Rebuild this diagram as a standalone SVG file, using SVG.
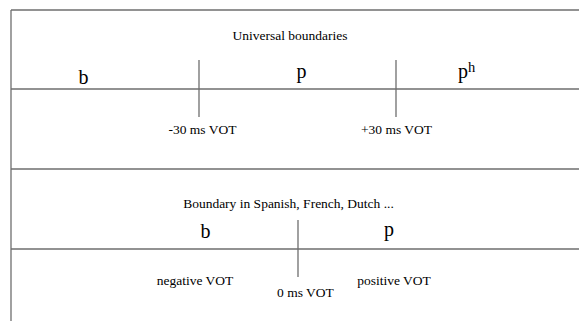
<svg xmlns="http://www.w3.org/2000/svg" width="579" height="321" viewBox="0 0 579 321">
<style>
.ln{stroke:#6e6e6e;stroke-width:1.3;fill:none}
.t{font-family:"Liberation Serif","Times New Roman",serif;fill:#000}
.s{font-size:13.5px}
.big{font-size:20px}
</style>
<rect width="579" height="321" fill="#fff"/>
<g id="frame">
<line class="ln" x1="11" y1="10" x2="579" y2="10"/>
<line class="ln" x1="11" y1="10" x2="11" y2="321"/>
<line class="ln" x1="11" y1="169" x2="579" y2="169"/>
</g>
<g id="connectors">
<line class="ln" x1="11" y1="89" x2="579" y2="89"/>
<line class="ln" x1="199" y1="60" x2="199" y2="117"/>
<line class="ln" x1="396" y1="60" x2="396" y2="117"/>
<line class="ln" x1="11" y1="249" x2="579" y2="249"/>
<line class="ln" x1="298" y1="220" x2="298" y2="277"/>
</g>
<g id="universal">
<text class="t s" x="290" y="40" text-anchor="middle">Universal boundaries</text>
<text class="t big" x="83.5" y="84" text-anchor="middle">b</text>
<text class="t big" x="301.5" y="78" text-anchor="middle">p</text>
<text class="t big" x="458" y="78">p<tspan font-size="14.5px" dy="-6">h</tspan></text>
<text class="t s" x="202.5" y="134" text-anchor="middle">-30 ms VOT</text>
<text class="t s" x="396.5" y="134" text-anchor="middle">+30 ms VOT</text>
</g>
<g id="language">
<text class="t s" x="288.5" y="208" text-anchor="middle">Boundary in Spanish, French, Dutch ...</text>
<text class="t big" x="205.5" y="238" text-anchor="middle">b</text>
<text class="t big" x="389" y="236" text-anchor="middle">p</text>
<text class="t s" x="195" y="285" text-anchor="middle">negative VOT</text>
<text class="t s" x="305.5" y="297" text-anchor="middle">0 ms VOT</text>
<text class="t s" x="394" y="285" text-anchor="middle">positive VOT</text>
</g>
</svg>
